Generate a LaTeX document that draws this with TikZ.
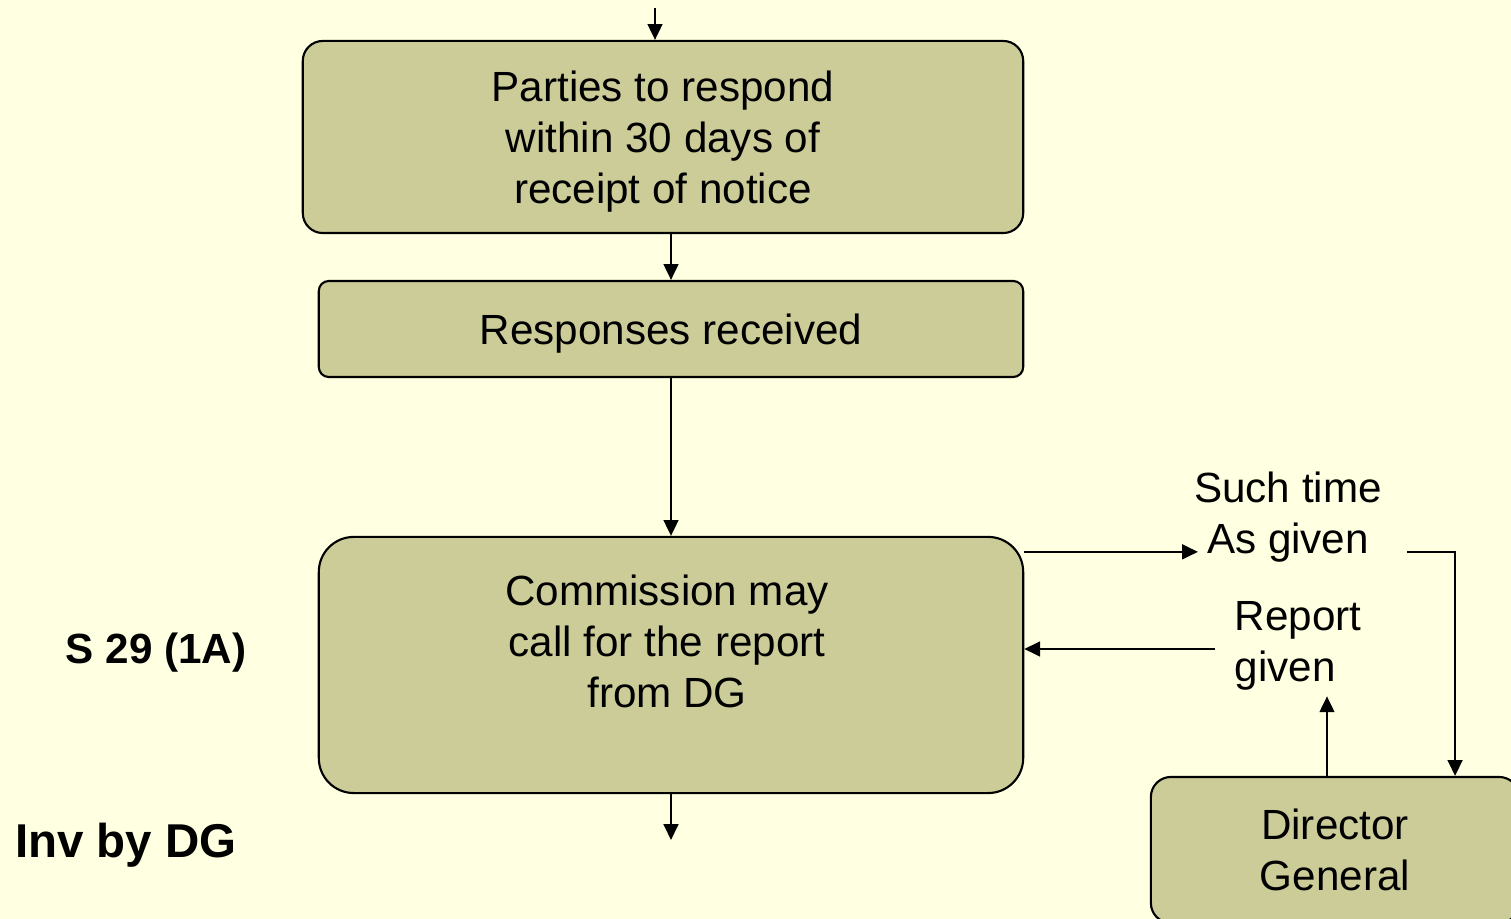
\documentclass[tikz,border=0pt]{standalone}
\usepackage{fontspec}
\setmainfont{Liberation Sans}
\usetikzlibrary{arrows.meta, calc}
\definecolor{cpage}{RGB}{255,255,225}
\definecolor{cbox}{RGB}{204,204,153}
\newcommand{\toppad}{\rule{0pt}{11.5pt}}
\tikzset{
  pbox/.style={   % process box (olive)
    draw=black, fill=cbox, line width=0.6pt,
    align=center, font=\fontsize{12}{14.5}\selectfont, inner sep=0pt
  },
  ltxt/.style={   % free text beside the arrows
    align=center, font=\fontsize{12}{14.5}\selectfont, inner sep=1pt
  },
  btxt/.style={   % bold side note
    font=\bfseries\fontsize{12}{14.5}\selectfont, inner sep=1pt
  },
  flow/.style={-{Triangle[length=4.5pt, width=4.2pt]}, line width=0.6pt},
}

\begin{document}
\begin{tikzpicture}[x=0.01cm, y=-0.01cm]

% page
\fill[cpage] (0,0) rectangle (1511,919);
\useasboundingbox (0,0) rectangle (1511,919);
\clip (0,0) rectangle (1511,919);

%% ─── MAIN COLUMN ─────────────────────────────────────────────────────────────
\node[pbox, rounded corners=0.2cm, minimum width=7.2cm, minimum height=1.92cm]
  (parties) at (663,137) {\toppad Parties to respond\\within 30 days of\\receipt of notice};
\node[pbox, rounded corners=0.1cm, minimum width=7.04cm, minimum height=0.96cm]
  (resp) at (671,329) {\toppad Responses received};
\node[pbox, rounded corners=0.35cm, minimum width=7.04cm, minimum height=2.56cm]
  (comm) at (671,665) {};
\node[ltxt] (commtxt) at (667,641) {Commission may\\call for the report\\from DG};

\coordinate (topin)   at (655,8);
\coordinate (commout) at (671,840);

\draw[flow] (topin) -- (topin |- parties.north);
\draw[flow] (resp.north |- parties.south) -- (resp.north);
\draw[flow] (resp.south) -- (comm.north);
\draw[flow] (comm.south) -- (commout);

%% ─── SIDE NOTES ──────────────────────────────────────────────────────────────
\node[btxt] (s29) at (156,653) {S 29 (1A)};
\node[btxt, font=\bfseries\fontsize{13.5}{16}\selectfont] (invdg) at (126,845) {Inv by DG};

%% ─── DIRECTOR GENERAL LOOP ───────────────────────────────────────────────────
\node[pbox, rounded corners=0.2cm, minimum width=3.68cm, minimum height=1.46cm]
  (dg) at (1335,850) {Director\\General};

\node[ltxt] (suchtime) at (1288,517) {Such time\\As given};
\node[ltxt, align=left, anchor=west, inner xsep=0pt, inner ysep=1.5pt]
  (report) at (1234,646) {Report\\given};

\draw[flow] ($(comm.north east)+(0,16)$) -- ($(suchtime.west |- comm.north east)+(8,16)$);
\draw[flow] ($(suchtime.east |- comm.north east)+(21,16)$) -| ([xshift=1.2cm]dg.north);
\draw[flow] ([xshift=-0.08cm]dg.north) -- ([xshift=-0.08cm]dg.north |- report.south);
\draw[flow] ($(report.west)+(-19,3)$) -- ($(report.west -| comm.east)+(0,3)$);

\end{tikzpicture}
\end{document}
